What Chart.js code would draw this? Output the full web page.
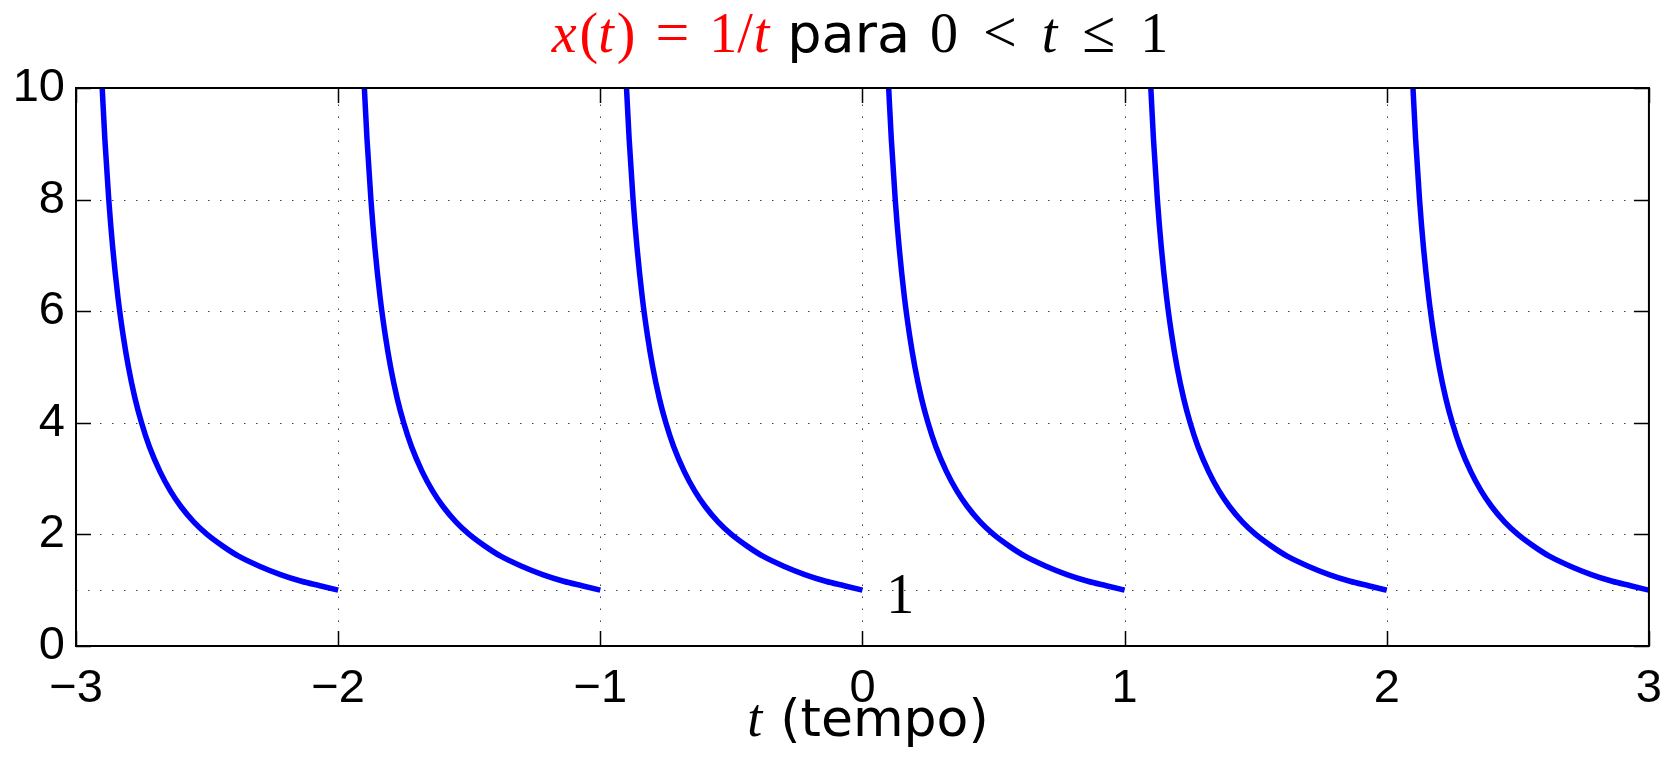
<!DOCTYPE html>
<html>
<head>
<meta charset="utf-8">
<title>x(t) = 1/t periódico</title>
<script src="https://cdn.jsdelivr.net/npm/chart.js@4.4.1/dist/chart.umd.min.js"></script>
<style>
  html, body { margin: 0; padding: 0; background: #fff; }
</style>
</head>
<body>
<canvas id="chart" width="1677" height="757"></canvas>
<script>
// one period of x(t) = 1/t on 0 < t <= 1 (offset inside the period -> value)
const periodOffsets = [0.1, 0.11, 0.125, 0.14, 0.16, 0.18, 0.2, 0.225, 0.25, 0.28, 0.32, 0.36, 0.4, 0.45, 0.5, 0.56, 0.62, 0.7, 0.78, 0.86, 0.93, 1.0];
const periodValues  = [10, 9.09, 8, 7.14, 6.25, 5.56, 5, 4.44, 4, 3.57, 3.13, 2.78, 2.5, 2.22, 2, 1.79, 1.61, 1.43, 1.28, 1.16, 1.08, 1];
const periodStarts  = [-3, -2, -1, 0, 1, 2];

const xTicks = [-3, -2, -1, 0, 1, 2, 3];
const yTicks = [0, 2, 4, 6, 8, 10];
const extraGridY = [1];

// value label next to the end of the period starting at 0 (t, baseline y)
const noteText = ['1'];
const noteT = [0.144];
const noteY = [0.6];

const SANS = '"Liberation Sans", Arial, sans-serif';
const WIDE = '"DejaVu Sans", sans-serif';
const SERIF = '"Liberation Serif", "Times New Roman", serif';

const datasets = periodStarts.map(start => ({
  data: periodOffsets.map((o, i) => ({ x: start + o, y: periodValues[i] })),
  borderColor: '#0000ff',
  borderWidth: 5.5,
  borderCapStyle: 'butt',
  pointRadius: 0,
  cubicInterpolationMode: 'monotone',
  fill: false,
  clip: 0
}));

// text runs with mixed fonts; gap = extra space after a run
function drawRuns(ctx, runs, cx, baseline) {
  let total = 0;
  runs.forEach(r => {
    ctx.font = r.font;
    r.w = ctx.measureText(r.text).width + (r.gap || 0);
    total += r.w;
  });
  total -= runs[runs.length - 1].gap || 0;
  let x = cx - total / 2;
  ctx.textBaseline = 'alphabetic';
  ctx.textAlign = 'left';
  runs.forEach(r => {
    ctx.font = r.font;
    ctx.fillStyle = r.color;
    ctx.fillText(r.text, x, baseline);
    x += r.w;
  });
}

const frame = {
  id: 'frame',
  beforeDatasetsDraw(chart) {
    const { ctx, chartArea: a, scales: { x, y } } = chart;
    ctx.save();
    ctx.strokeStyle = '#444';
    ctx.lineWidth = 1;
    ctx.setLineDash([1.5, 10.5]);
    ctx.beginPath();
    xTicks.slice(1, -1).forEach(v => {
      const px = Math.round(x.getPixelForValue(v)) + 0.5;
      ctx.moveTo(px, a.bottom);
      ctx.lineTo(px, a.top);
    });
    yTicks.slice(1, -1).concat(extraGridY).forEach(v => {
      const py = Math.round(y.getPixelForValue(v)) + 0.5;
      ctx.moveTo(a.left, py);
      ctx.lineTo(a.right, py);
    });
    ctx.stroke();
    ctx.restore();
  },
  afterDatasetsDraw(chart) {
    const { ctx, chartArea: a, scales: { x, y } } = chart;
    const tick = 15;
    ctx.save();
    ctx.strokeStyle = '#000';
    ctx.lineWidth = 1.5;
    ctx.beginPath();
    xTicks.forEach(v => {
      const px = Math.round(x.getPixelForValue(v)) + 0.5;
      ctx.moveTo(px, a.bottom); ctx.lineTo(px, a.bottom - tick);
      ctx.moveTo(px, a.top); ctx.lineTo(px, a.top + tick);
    });
    yTicks.forEach(v => {
      const py = Math.round(y.getPixelForValue(v)) + 0.5;
      ctx.moveTo(a.left, py); ctx.lineTo(a.left + tick, py);
      ctx.moveTo(a.right, py); ctx.lineTo(a.right - tick, py);
    });
    ctx.stroke();

    ctx.lineWidth = 2;
    ctx.strokeRect(a.left, a.top, a.right - a.left, a.bottom - a.top);

    // value note
    ctx.fillStyle = '#000';
    ctx.font = '56px ' + SERIF;
    ctx.textAlign = 'center';
    ctx.textBaseline = 'alphabetic';
    noteText.forEach((t, i) => ctx.fillText(t, x.getPixelForValue(noteT[i]), y.getPixelForValue(noteY[i])));

    const red = '#ff0000';
    const it = 'italic 56px ' + SERIF;
    const up = '56px ' + SERIF;

    // title: x(t) = 1/t para 0 < t <= 1
    drawRuns(ctx, [
      { text: 'x', font: it, color: red, gap: 3 },
      { text: '(', font: up, color: red },
      { text: 't', font: it, color: red, gap: 3 },
      { text: ')', font: up, color: red, gap: 20 },
      { text: '=', font: '60px ' + SERIF, color: red, gap: 20 },
      { text: '1/', font: up, color: red, gap: 1 },
      { text: 't', font: it, color: red, gap: 18 },
      { text: 'para', font: '54px ' + WIDE, color: '#000', gap: 20 },
      { text: '0', font: up, color: '#000', gap: 25 },
      { text: '<', font: '60px ' + SERIF, color: '#000', gap: 25 },
      { text: 't', font: it, color: '#000', gap: 25 },
      { text: '\u2264', font: '60px ' + SERIF, color: '#000', gap: 25 },
      { text: '1', font: up, color: '#000' }
    ], 860, 52);

    // x axis label
    drawRuns(ctx, [
      { text: 't', font: 'italic 54px ' + SERIF, color: '#000', gap: 18 },
      { text: '(tempo)', font: '52px ' + WIDE, color: '#000' }
    ], 868, 736);

    ctx.restore();
  }
};

new Chart(document.getElementById('chart'), {
  type: 'line',
  data: { datasets },
  options: {
    responsive: false,
    animation: false,
    layout: { padding: { left: 0, right: 21, top: 88, bottom: 0 } },
    plugins: {
      legend: { display: false },
      title: { display: false },
      tooltip: { enabled: false }
    },
    scales: {
      x: {
        type: 'linear',
        min: -3,
        max: 3,
        afterFit: s => { s.height = 111; },
        afterBuildTicks: s => { s.ticks = xTicks.map(v => ({ value: v })); },
        grid: { display: false, drawTicks: false },
        border: { display: false },
        ticks: {
          color: '#000',
          font: { family: SANS, size: 47 },
          padding: 15,
          maxRotation: 0,
          autoSkip: false,
          callback: v => (v < 0 ? '\u2212' + Math.abs(v) : String(v))
        }
      },
      y: {
        min: 0,
        max: 10,
        afterFit: s => { s.width = 76; },
        afterBuildTicks: s => { s.ticks = yTicks.map(v => ({ value: v })); },
        grid: { display: false, drawTicks: false },
        border: { display: false },
        ticks: {
          color: '#000',
          font: { family: SANS, size: 47 },
          padding: 11
        }
      }
    }
  },
  plugins: [frame]
});
</script>
</body>
</html>
